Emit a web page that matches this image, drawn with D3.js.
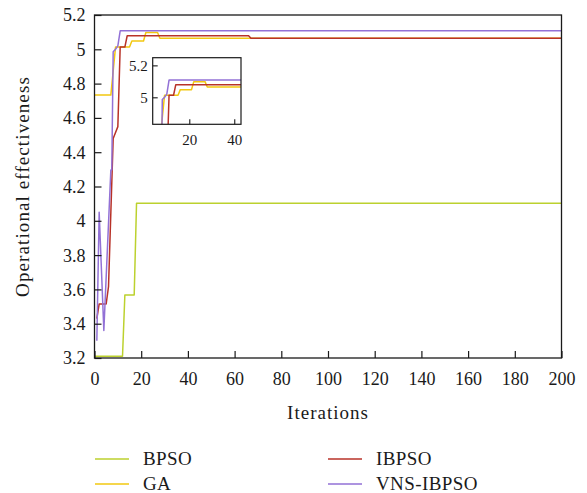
<!DOCTYPE html>
<html>
<head>
<meta charset="utf-8">
<script src="https://cdn.jsdelivr.net/npm/d3@7"></script>
<style>
  html, body { margin: 0; padding: 0; background: #fff; }
  svg { display: block; }
  text { font-family: "Liberation Serif", "Times New Roman", serif; fill: #1a1a1a; }
</style>
</head>
<body>
<svg id="chart" width="587" height="493"></svg>
<script>
// ---- data (iteration, value) pairs ----
const seriesNames = ["BPSO", "GA", "IBPSO", "VNS-IBPSO"];
const seriesColors = ["#BCD12E", "#F2C811", "#B83228", "#9271D6"];

const bpso = [[0, 3.21], [12, 3.21], [13, 3.567], [17, 3.567], [18, 4.102], [200, 4.102]];
const ga = [[0, 4.733], [7, 4.733], [9, 5.013], [15, 5.013], [16, 5.048], [21, 5.048],
            [22, 5.098], [27, 5.098], [28, 5.064], [200, 5.064]];
const ibpso = [[1, 3.43], [2, 3.515], [5, 3.515], [6, 3.616], [8, 4.48], [10, 4.549],
               [11, 5.013], [13, 5.013], [14, 5.079], [66, 5.079], [67, 5.064], [200, 5.064]];
const vnsibpso = [[1, 3.30], [2, 4.05], [4, 3.36], [7, 4.296], [7.4, 4.296], [8, 4.986],
                  [9, 5.0], [10, 5.02], [11, 5.108], [200, 5.108]];
const allSeries = [bpso, ga, ibpso, vnsibpso];

const xTicks = [0, 20, 40, 60, 80, 100, 120, 140, 160, 180, 200];
const yTicks = [3.2, 3.4, 3.6, 3.8, 4, 4.2, 4.4, 4.6, 4.8, 5, 5.2];
const insetXTicks = [20, 40];
const insetYTicks = [5, 5.2];

// ---- layout ----
const svg = d3.select("#chart");
const L = 94.5, R = 561.5, T = 15, B = 358;

const x = d3.scaleLinear().domain([0, 200]).range([L, R]);
const y = d3.scaleLinear().domain([3.2, 5.2]).range([B, T]);

const fmt = d => (d === 4 ? "4" : d === 5 ? "5" : d3.format(".1f")(d));

svg.append("defs").append("clipPath").attr("id", "mainClip")
  .append("rect").attr("x", L).attr("y", T).attr("width", R - L).attr("height", B - T);

// lines
const line = d3.line().x(d => x(d[0])).y(d => y(d[1]));
const gLines = svg.append("g").attr("clip-path", "url(#mainClip)");
allSeries.forEach((s, i) => {
  gLines.append("path").datum(s).attr("d", line)
    .attr("fill", "none").attr("stroke", seriesColors[i]).attr("stroke-width", 1.5)
    .attr("stroke-linejoin", "round");
});

// axes (ticks inward)
const xAxis = svg.append("g").attr("transform", `translate(0,${B})`)
  .call(d3.axisBottom(x).tickValues(xTicks).tickSize(-7).tickPadding(14).tickFormat(d3.format("d")));
const yAxis = svg.append("g").attr("transform", `translate(${L},0)`)
  .call(d3.axisLeft(y).tickValues(yTicks).tickSize(-7).tickPadding(9).tickFormat(fmt));
[xAxis, yAxis].forEach(g => {
  g.select(".domain").remove();
  g.selectAll("line").attr("stroke", "#1a1a1a").attr("stroke-width", 1.2);
  g.selectAll("text").style("font-family", "'Liberation Serif', serif").style("font-size", "18px").attr("fill", "#1a1a1a");
});
yAxis.selectAll("text").attr("dy", "0.33em");

// frame
svg.append("rect").attr("x", L).attr("y", T).attr("width", R - L).attr("height", B - T)
  .attr("fill", "none").attr("stroke", "#1a1a1a").attr("stroke-width", 1.3);

// axis titles
svg.append("text").attr("x", (L + R) / 2).attr("y", 419).attr("text-anchor", "middle")
  .style("font-size", "19px").style("letter-spacing", "1px").text("Iterations");
svg.append("text").attr("transform", `translate(29,${(T + B) / 2}) rotate(-90)`)
  .attr("text-anchor", "middle").style("font-size", "19px").style("letter-spacing", "1.1px")
  .text("Operational effectiveness");

// ---- inset ----
const iL = 152.7, iR = 241, iT = 57.7, iB = 124.3;
const ix = d3.scaleLinear().domain([3.73, 43]).range([iL, iR]);
const iy = d3.scaleLinear().domain([4.831, 5.248]).range([iB, iT]);

svg.append("rect").attr("x", iL).attr("y", iT).attr("width", iR - iL).attr("height", iB - iT).attr("fill", "#fff");
svg.select("defs").append("clipPath").attr("id", "insetClip")
  .append("rect").attr("x", iL).attr("y", iT).attr("width", iR - iL).attr("height", iB - iT);
const iline = d3.line().x(d => ix(d[0])).y(d => iy(d[1]));
const gi = svg.append("g").attr("clip-path", "url(#insetClip)");
allSeries.forEach((s, i) => {
  gi.append("path").datum(s).attr("d", iline)
    .attr("fill", "none").attr("stroke", seriesColors[i]).attr("stroke-width", 1.5)
    .attr("stroke-linejoin", "round");
});
const ixAxis = svg.append("g").attr("transform", `translate(0,${iB})`)
  .call(d3.axisBottom(ix).tickValues(insetXTicks).tickSize(-5).tickPadding(10).tickFormat(d3.format("d")));
const iyAxis = svg.append("g").attr("transform", `translate(${iL},0)`)
  .call(d3.axisLeft(iy).tickValues(insetYTicks).tickSize(-5).tickPadding(5).tickFormat(d => d === 5 ? "5" : "5.2"));
[ixAxis, iyAxis].forEach(g => {
  g.select(".domain").remove();
  g.selectAll("line").attr("stroke", "#1a1a1a").attr("stroke-width", 1.1);
  g.selectAll("text").style("font-family", "'Liberation Serif', serif").style("font-size", "15px").attr("fill", "#1a1a1a");
});
iyAxis.selectAll("text").attr("dy", "0.33em");
svg.append("rect").attr("x", iL).attr("y", iT).attr("width", iR - iL).attr("height", iB - iT)
  .attr("fill", "none").attr("stroke", "#1a1a1a").attr("stroke-width", 1.2);

// ---- legend ----
const legendPos = [[95, 459], [95, 484], [328, 459], [328, 484]];
seriesNames.forEach((name, i) => {
  const [lx, ly] = legendPos[i];
  svg.append("line").attr("x1", lx).attr("x2", lx + 34).attr("y1", ly).attr("y2", ly)
    .attr("stroke", seriesColors[i]).attr("stroke-width", 1.5);
  svg.append("text").attr("x", lx + 48).attr("y", ly).attr("dy", "0.33em")
    .style("font-size", "19px").style("letter-spacing", "0.4px").text(name);
});
</script>
</body>
</html>
